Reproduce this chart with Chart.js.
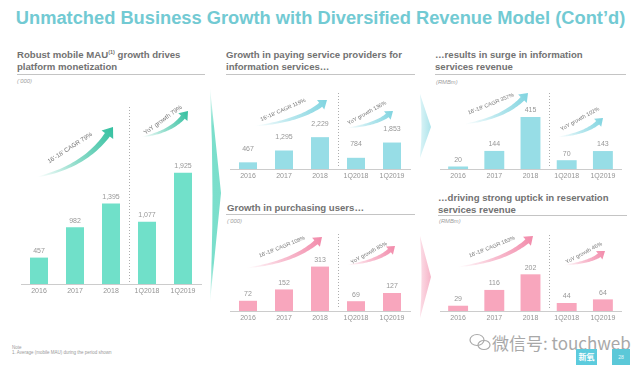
<!DOCTYPE html>
<html>
<head>
<meta charset="utf-8">
<script src="https://cdn.jsdelivr.net/npm/chart.js@4.4.0/dist/chart.umd.min.js"></script>
<style>
  body { margin:0; width:641px; height:365px; overflow:hidden; background:#fff; position:relative;
         font-family:"Liberation Sans", Arial, sans-serif; }
  .abs { position:absolute; white-space:nowrap; }
  #title { left:0; width:641px; top:7px; text-align:center; font-size:18.3px; font-weight:bold; color:#72cad3; line-height:22px; }
  .head { font-size:9.6px; font-weight:bold; color:#727272; line-height:11.5px; }
  .head sup { font-size:5.5px; vertical-align:4px; line-height:0; }
  .rule { height:0; border-top:1px solid #c4c4c4; }
  .unit { font-size:5.8px; font-style:italic; color:#a0a0a0; }
  canvas { position:absolute; }
  #deco { position:absolute; left:0; top:0; }
</style>
</head>
<body>

<div id="title" class="abs">Unmatched Business Growth with Diversified Revenue Model (Cont’d)</div>

<svg id="deco" width="641" height="365">
  <defs>
    <linearGradient id="gTeal" x1="0" y1="0" x2="0" y2="1">
      <stop offset="0" stop-color="#74ddc9" stop-opacity="0.1"/>
      <stop offset="0.18" stop-color="#74ddc9" stop-opacity="0.95"/>
      <stop offset="0.82" stop-color="#74ddc9" stop-opacity="0.95"/>
      <stop offset="1" stop-color="#74ddc9" stop-opacity="0.1"/>
    </linearGradient>
    <linearGradient id="gBlue" x1="0" y1="0" x2="1" y2="0">
      <stop offset="0" stop-color="#dcf4f7"/>
      <stop offset="1" stop-color="#ade4eb"/>
    </linearGradient>
    <linearGradient id="gPink" x1="0" y1="0" x2="1" y2="0">
      <stop offset="0" stop-color="#fcdee7"/>
      <stop offset="1" stop-color="#f6b5c8"/>
    </linearGradient>
  </defs>
  <path d="M210,88 L221,193 L210,302 Q215,195 210,88 Z" fill="url(#gTeal)"/>
  <path d="M420,94 L431,127 L420,158 Q423,126 420,94 Z" fill="url(#gBlue)"/>
  <path d="M420,236 L431,277 L420,318 Q423,277 420,236 Z" fill="url(#gPink)"/>
  <g fill="none" stroke="#ababab" stroke-width="1.2">
    <ellipse cx="477" cy="340" rx="7" ry="5.5"/>
    <ellipse cx="484" cy="345" rx="6" ry="4.5"/>
  </g>
</svg>

<div class="abs head" style="left:17px;top:49px">Robust mobile MAU<sup>(1)</sup> growth drives<br>platform monetization</div>
<div class="abs rule" style="left:17px;top:74px;width:188px"></div>
<div class="abs unit" style="left:17px;top:78px">(‘000)</div>

<div class="abs head" style="left:226px;top:49px">Growth in paying service providers for<br>information services…</div>
<div class="abs rule" style="left:226px;top:74px;width:189px"></div>

<div class="abs head" style="left:435px;top:49px">…results in surge in information<br>services revenue</div>
<div class="abs rule" style="left:435px;top:74px;width:191px"></div>
<div class="abs unit" style="left:436px;top:79px">(RMBm)</div>

<div class="abs head" style="left:227px;top:202px">Growth in purchasing users…</div>
<div class="abs rule" style="left:226px;top:214px;width:189px"></div>
<div class="abs unit" style="left:227px;top:218px">(‘000)</div>

<div class="abs head" style="left:438px;top:192px">…driving strong uptick in reservation<br>services revenue</div>
<div class="abs rule" style="left:438px;top:215px;width:189px"></div>
<div class="abs unit" style="left:439px;top:218px">(RMBm)</div>

<div class="abs" style="left:12px;top:345px;font-size:4.5px;color:#999">Note</div>
<div class="abs" style="left:12px;top:350px;font-size:4.5px;color:#999">1. Average (mobile MAU) during the period shown</div>

<div class="abs" style="left:492px;top:332px;font-size:17px;color:#a8a8a8;font-family:'Noto Sans CJK SC','Liberation Sans',sans-serif;line-height:22px">微信号: touchweb</div>
<div class="abs" style="left:576px;top:349px;width:21px;height:16px;background:#5ccbdd;color:#fff;font-size:8px;font-weight:bold;text-align:center;line-height:16px;font-family:'Noto Sans CJK SC',sans-serif">新氧</div>
<div class="abs" style="left:612px;top:349px;width:18px;height:16px;background:#5bc8d8;color:#e8f8fa;font-size:5px;text-align:center;line-height:16px">28</div>

<canvas id="c1"></canvas>
<canvas id="c2"></canvas>
<canvas id="c3"></canvas>
<canvas id="c4"></canvas>
<canvas id="c5"></canvas>

<script>
// categories shared by all five small charts
const periods = ['2016', '2017', '2018', '1Q2018', '1Q2019'];

// series values
const mobileMau          = [457, 982, 1395, 1077, 1925];   // '000
const payingProviders    = [467, 1295, 2229, 784, 1853];
const infoRevenue        = [20, 144, 415, 70, 143];        // RMBm
const purchasingUsers    = [72, 152, 313, 69, 127];        // '000
const reservationRevenue = [29, 116, 202, 44, 64];         // RMBm

// growth callouts
const cagrLabels = ["16'-18' CAGR 79%", "16'-18' CAGR 119%", "16'-18' CAGR 357%", "16'-18' CAGR 108%", "16'-18' CAGR 163%"];
const yoyLabels  = ['YoY growth 79%', 'YoY growth 136%', 'YoY growth 102%', 'YoY growth 85%', 'YoY growth 46%'];

const TEAL = [52, 192, 160], BLUE = [128, 212, 224], PINK = [242, 138, 170];

// panel placement (page px). base = baseline y, pxPer = px per unit
const panels = [
  { id:'c1', values:mobileMau, bar:'#70e0c9', arrow:TEAL, left:0, top:95, width:212, height:210, base:287, pxPer:113/1925,
    padL:21, padR:11, barPct:0.5, gap:3, sepTop:107, fs:6.2,
    cagr:{ from:[37,177], to:[113,127], w:6, at:[70,148], rot:-33 },
    yoy: { from:[142,137], to:[188,111], w:5, at:[163,120], rot:-36 } },
  { id:'c2', values:payingProviders, bar:'#97dde6', arrow:BLUE, left:215, top:85, width:210, height:100, base:172, pxPer:33/2229,
    padL:15, padR:15, barPct:0.5, gap:10, sepTop:93, fs:5.5,
    cagr:{ from:[255,126], to:[327,100], w:5, at:[283,110], rot:-24 },
    yoy: { from:[347,128], to:[393,111], w:4.5, at:[367,113], rot:-29 } },
  { id:'c3', values:infoRevenue, bar:'#97dde6', arrow:BLUE, left:430, top:85, width:211, height:100, base:172, pxPer:54/415,
    padL:10, padR:20, barPct:0.55, gap:3, sepTop:93, fs:5.5,
    cagr:{ from:[465,124], to:[528,93], w:5, at:[491,104], rot:-22 },
    yoy: { from:[558,137], to:[603,118], w:4.5, at:[580,119], rot:-29 } },
  { id:'c4', values:purchasingUsers, bar:'#f8a6bd', arrow:PINK, left:215, top:225, width:210, height:100, base:314, pxPer:46/313,
    padL:15, padR:15, barPct:0.5, gap:3, sepTop:234, fs:5.5,
    cagr:{ from:[247,268], to:[322,237], w:5, at:[282,247], rot:-22 },
    yoy: { from:[347,265], to:[395,246], w:4.5, at:[369,253], rot:-29 } },
  { id:'c5', values:reservationRevenue, bar:'#f8a6bd', arrow:PINK, left:430, top:225, width:211, height:100, base:314, pxPer:38/202,
    padL:10, padR:20, barPct:0.55, gap:3, sepTop:235, fs:5.5,
    cagr:{ from:[458,267], to:[533,236], w:5, at:[492,247], rot:-22 },
    yoy: { from:[565,265], to:[605,251], w:4.5, at:[584,253], rot:-28 } },
];

const rgba = (c, a) => `rgba(${c[0]},${c[1]},${c[2]},${a})`;

// tapered curved arrow, tail thin and faded, head solid
function drawSwoosh(ctx, x0, y0, x1, y1, w, col) {
  const cx = x0 + 0.62 * (x1 - x0), cy = y0 + 0.2 * (y1 - y0);
  let dx = x1 - cx, dy = y1 - cy;
  const L = Math.hypot(dx, dy); dx /= L; dy /= L;
  const hl = w * 1.6, hw = w * 2.4;
  const bx = x1 - dx * hl, by = y1 - dy * hl;
  const up = [], lo = [];
  for (let i = 0; i <= 30; i++) {
    const t = i / 30;
    const px = (1-t)*(1-t)*x0 + 2*(1-t)*t*cx + t*t*bx;
    const py = (1-t)*(1-t)*y0 + 2*(1-t)*t*cy + t*t*by;
    let tx = 2*(1-t)*(cx-x0) + 2*t*(bx-cx), ty = 2*(1-t)*(cy-y0) + 2*t*(by-cy);
    const tl = Math.hypot(tx, ty); tx /= tl; ty /= tl;
    const half = w * (0.06 + 0.94 * Math.pow(t, 0.7)) / 2;
    up.push([px + ty * half, py - tx * half]);
    lo.push([px - ty * half, py + tx * half]);
  }
  const g = ctx.createLinearGradient(x0, y0, x1, y1);
  g.addColorStop(0, rgba(col, 0));
  g.addColorStop(0.45, rgba(col, 0.55));
  g.addColorStop(1, rgba(col, 1));
  ctx.beginPath();
  up.forEach((p, i) => i ? ctx.lineTo(p[0], p[1]) : ctx.moveTo(p[0], p[1]));
  ctx.lineTo(bx + dy * hw / 2, by - dx * hw / 2);
  ctx.lineTo(x1, y1);
  ctx.lineTo(bx - dy * hw / 2, by + dx * hw / 2);
  for (let i = lo.length - 1; i >= 0; i--) ctx.lineTo(lo[i][0], lo[i][1]);
  ctx.closePath();
  ctx.fillStyle = g;
  ctx.fill();
}

function drawCallout(ctx, p, a, text) {
  drawSwoosh(ctx, a.from[0] - p.left, a.from[1] - p.top, a.to[0] - p.left, a.to[1] - p.top, a.w, p.arrow);
  ctx.save();
  ctx.translate(a.at[0] - p.left, a.at[1] - p.top);
  ctx.rotate(a.rot * Math.PI / 180);
  ctx.font = p.fs + 'px "Liberation Sans", Arial, sans-serif';
  ctx.fillStyle = '#767676';
  ctx.textAlign = 'center';
  ctx.textBaseline = 'middle';
  ctx.fillText(text, 0, 0);
  ctx.restore();
}

const slidePlugin = {
  id: 'slide',
  afterDatasetsDraw(chart, args, opts) {
    const p = opts.panel, ctx = chart.ctx;
    const xs = chart.scales.x, ys = chart.scales.y;
    ctx.save();
    // value labels
    ctx.font = '7px "Liberation Sans", Arial, sans-serif';
    ctx.fillStyle = '#979797';
    ctx.textAlign = 'center';
    ctx.textBaseline = 'bottom';
    chart.getDatasetMeta(0).data.forEach((bar, i) => {
      ctx.fillText(p.values[i].toLocaleString('en-US'), bar.x, bar.y - p.gap);
    });
    // dotted divider between annual and quarterly bars
    const sx = Math.round((xs.getPixelForValue(2) + xs.getPixelForValue(3)) / 2) + 0.5;
    ctx.strokeStyle = '#adadad';
    ctx.lineWidth = 1;
    ctx.setLineDash([1, 2]);
    ctx.beginPath();
    ctx.moveTo(sx, p.sepTop - p.top);
    ctx.lineTo(sx, ys.getPixelForValue(0) - 2);
    ctx.stroke();
    ctx.setLineDash([]);
    ctx.restore();
    drawCallout(ctx, p, p.cagr, cagrLabels[opts.idx]);
    drawCallout(ctx, p, p.yoy, yoyLabels[opts.idx]);
  }
};

const axisH = 7 * 1.2 + 2;

panels.forEach((p, idx) => {
  const cv = document.getElementById(p.id);
  cv.style.left = p.left + 'px';
  cv.style.top = p.top + 'px';
  cv.style.width = p.width + 'px';
  cv.style.height = p.height + 'px';
  cv.width = p.width;
  cv.height = p.height;
  new Chart(cv, {
    type: 'bar',
    data: {
      labels: periods,
      datasets: [{ data: p.values, backgroundColor: p.bar, barPercentage: p.barPct, categoryPercentage: 1 }]
    },
    options: {
      responsive: false,
      animation: false,
      events: [],
      layout: { padding: { left: p.padL, right: p.padR, top: 2, bottom: p.top + p.height - p.base - axisH } },
      scales: {
        x: {
          grid: { display: false, drawTicks: false },
          border: { display: true, color: '#cccccc', width: 1 },
          ticks: { color: '#949494', padding: 2.5, font: { size: 7, family: '"Liberation Sans", Arial, sans-serif' } }
        },
        y: { display: false, min: 0, max: (p.base - p.top - 2) / p.pxPer }
      },
      plugins: {
        legend: { display: false },
        tooltip: { enabled: false },
        slide: { panel: p, idx: idx }
      }
    },
    plugins: [slidePlugin]
  });
});
</script>
</body>
</html>
